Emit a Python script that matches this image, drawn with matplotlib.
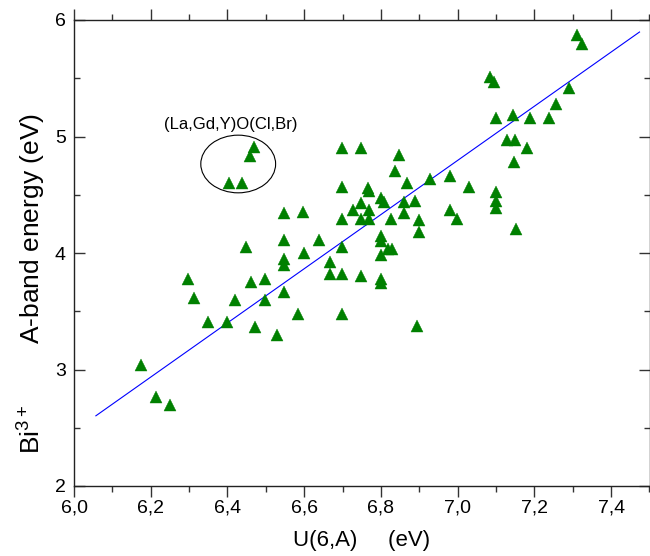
import matplotlib
matplotlib.use("Agg")
import matplotlib.pyplot as plt
from matplotlib.patches import Ellipse
from matplotlib.ticker import MultipleLocator, FuncFormatter

plt.rcParams['font.family'] = ['Liberation Sans', 'DejaVu Sans']
plt.rcParams['mathtext.fontset'] = 'custom'
plt.rcParams['mathtext.rm'] = 'Liberation Sans'
plt.rcParams['mathtext.it'] = 'Liberation Sans:italic'
plt.rcParams['mathtext.default'] = 'regular'

# U(6,A) values (eV)
u6a = [6.174, 6.215, 6.249, 6.298, 6.313, 6.349, 6.398, 6.419, 6.403, 6.439,
       6.459, 6.469, 6.449, 6.462, 6.471, 6.499, 6.499, 6.529, 6.548, 6.548,
       6.548, 6.548, 6.548, 6.585, 6.598, 6.599, 6.639, 6.668, 6.668, 6.699,
       6.699, 6.699, 6.699, 6.699, 6.699, 6.748, 6.748, 6.748, 6.748, 6.726,
       6.766, 6.768, 6.769, 6.770, 6.799, 6.808, 6.799, 6.799, 6.818, 6.830,
       6.799, 6.799, 6.799, 6.826, 6.848, 6.837, 6.861, 6.888, 6.861, 6.868,
       6.899, 6.899, 6.893, 6.927, 6.979, 6.979, 6.999, 7.029, 7.083, 7.094,
       7.099, 7.099, 7.099, 7.099, 7.143, 7.128, 7.150, 7.180, 7.147, 7.153,
       7.189, 7.239, 7.257, 7.289, 7.312, 7.323]
# Bi3+ A-band energy (eV)
a_band = [3.04, 2.76, 2.695, 3.777, 3.61, 3.41, 3.41, 3.597, 4.603, 4.603,
          4.833, 4.913, 4.054, 3.754, 3.365, 3.777, 3.594, 3.299, 4.34, 4.112,
          3.945, 3.897, 3.668, 3.479, 4.35, 3.997, 4.112, 3.92, 3.822, 4.903,
          4.567, 4.293, 4.051, 3.82, 3.475, 4.899, 4.432, 4.292, 3.804, 4.369,
          4.56, 4.535, 4.369, 4.292, 4.475, 4.44, 4.15, 4.107, 4.036, 4.036,
          3.98, 3.78, 3.74, 4.295, 4.841, 4.70, 4.44, 4.449, 4.343, 4.597,
          4.286, 4.18, 3.377, 4.635, 4.663, 4.369, 4.295, 4.567, 5.513, 5.468,
          5.161, 4.526, 4.443, 4.383, 5.187, 4.97, 4.97, 4.897, 4.785, 4.205,
          5.161, 5.161, 5.279, 5.413, 5.871, 5.791]

# linear fit line
fit_x = [6.057, 7.474]
fit_slope = 2.325
fit_intercept = -11.48
fit_y = [fit_slope * x + fit_intercept for x in fit_x]

# group annotation
group_label = "(La,Gd,Y)O(Cl,Br)"
group_center = (6.428, 4.764)
group_size = (0.195, 0.495)
group_label_pos = (6.409, 5.107)

fig = plt.figure(figsize=(6.5, 5.56), dpi=100)
ax = fig.add_axes([74 / 650, 70 / 556, 575.5 / 650, 466 / 556])

ax.plot(fit_x, fit_y, color='#0000ff', lw=0.8, zorder=2)
ax.plot(u6a, a_band, linestyle='none', marker='^', ms=9, color='#008000',
        mec='#008000', mew=0.3, zorder=3)

ax.add_patch(Ellipse(group_center, group_size[0], group_size[1], fill=False,
                     ec='black', lw=0.8, zorder=2))
ax.text(group_label_pos[0], group_label_pos[1], group_label, ha='center',
        va='center', fontsize=12)

ax.set_xlim(6.0, 7.5)
ax.set_ylim(2, 6)
ax.xaxis.set_major_locator(MultipleLocator(0.2))
ax.xaxis.set_minor_locator(MultipleLocator(0.1))
ax.yaxis.set_major_locator(MultipleLocator(1))
ax.yaxis.set_minor_locator(MultipleLocator(0.5))
ax.xaxis.set_major_formatter(FuncFormatter(lambda v, p: f"{v:.1f}".replace('.', ',')))
ax.yaxis.set_major_formatter(FuncFormatter(lambda v, p: f"{v:.0f}"))

ax.tick_params(axis='x', which='both', direction='out', top=True, bottom=True,
               labelsize=14, color='#333333', pad=2)
ax.tick_params(axis='y', which='both', direction='in', left=True, right=True,
               labelsize=14, color='#333333', pad=6)
ax.tick_params(which='major', length=8, width=1)
ax.tick_params(which='minor', length=4, width=1)
for s in ax.spines.values():
    s.set_linewidth(1.0)
    s.set_color('#222222')

ax.set_xlabel("U(6,A)     (eV)", fontsize=16)
ax.set_ylabel("Bi$^{3+}$        A-band energy (eV)", fontsize=19)
ax.yaxis.set_label_coords(-0.046, 0.434)
ax.xaxis.set_label_coords(0.5, -0.095)

fig.savefig("out.png", dpi=100)
